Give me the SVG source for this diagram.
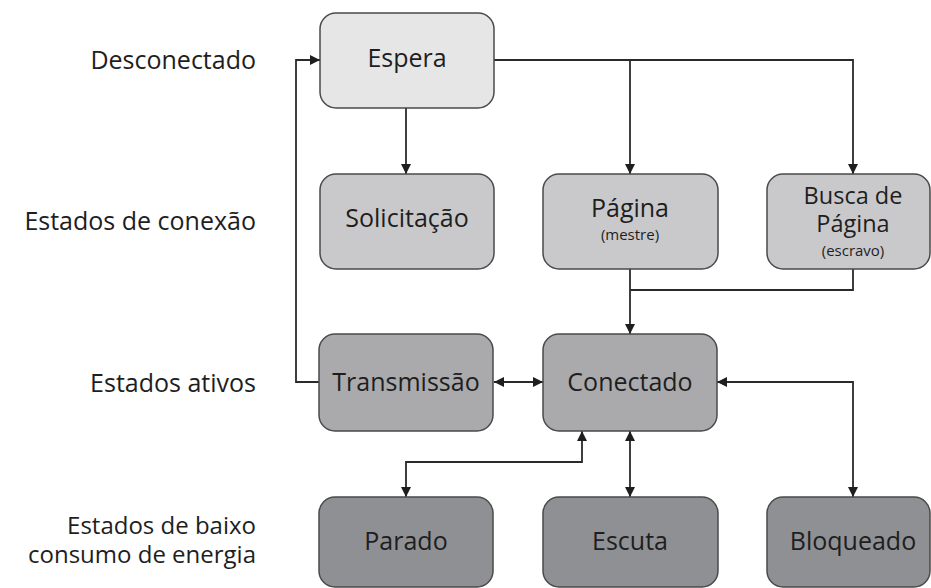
<svg xmlns="http://www.w3.org/2000/svg" width="931" height="588" viewBox="0 0 931 588">
<defs>
<marker id="ah" viewBox="0 0 10 10" refX="10" refY="5" markerWidth="10" markerHeight="10" markerUnits="userSpaceOnUse" orient="auto-start-reverse">
<path d="M0,0 L10,5 L0,10 z" fill="#1e1e1e"/>
</marker>
<style>
.box{stroke:#4a4a4a;stroke-width:1.5}
.l0{fill:#e6e6e7}.l1{fill:#c9c9cb}.l2{fill:#aaaaad}.l3{fill:#8f9094}
.t{font-family:"Open Sans","DejaVu Sans",sans-serif;fill:#1e1e1e;text-anchor:middle}
.n{font-size:25px}
.m{font-size:23.5px}
.s{font-size:15px}
.lab{font-family:"Open Sans","DejaVu Sans",sans-serif;font-size:25px;fill:#1e1e1e;text-anchor:end}
.lab2{font-size:24px}
.c{fill:none;stroke:#2a2a2a;stroke-width:1.8}
</style>
</defs>
<rect width="931" height="588" fill="#ffffff"/>
<g id="labels">
<text class="lab" x="256" y="69">Desconectado</text>
<text class="lab" x="256" y="230">Estados de conexão</text>
<text class="lab" x="256" y="392">Estados ativos</text>
<text class="lab lab2" x="256" y="534">Estados de baixo</text>
<text class="lab lab2" x="256" y="563">consumo de energia</text>
</g>
<g id="connectors">
<path class="c" d="M494,60 H853 V174" marker-end="url(#ah)"/>
<path class="c" d="M630,60 V174" marker-end="url(#ah)"/>
<path class="c" d="M406,108 V174" marker-end="url(#ah)"/>
<path class="c" d="M630,269 V334" marker-end="url(#ah)"/>
<path class="c" d="M853,269 V290 H630"/>
<path class="c" d="M319,382 H296 V60 H320" marker-end="url(#ah)"/>
<path class="c" d="M494,382 H543" marker-start="url(#ah)" marker-end="url(#ah)"/>
<path class="c" d="M717,382 H853 V497" marker-start="url(#ah)" marker-end="url(#ah)"/>
<path class="c" d="M582,431 V462 H406 V497" marker-start="url(#ah)" marker-end="url(#ah)"/>
<path class="c" d="M630,431 V497" marker-start="url(#ah)" marker-end="url(#ah)"/>
</g>
<g id="espera"><rect class="box l0" x="320" y="13" width="174" height="95" rx="16"/><text class="t n" x="407" y="67">Espera</text></g>
<g id="solicitacao"><rect class="box l1" x="320" y="174" width="174" height="95" rx="16"/><text class="t n" x="407" y="227">Solicitação</text></g>
<g id="pagina"><rect class="box l1" x="543" y="174" width="175" height="95" rx="16"/><text class="t n" x="630" y="217">Página</text><text class="t s" x="630" y="240">(mestre)</text></g>
<g id="busca"><rect class="box l1" x="767" y="174" width="163" height="95" rx="16"/><text class="t m" x="853" y="204">Busca de</text><text class="t m" x="853" y="232">Página</text><text class="t s" x="853" y="256">(escravo)</text></g>
<g id="transmissao"><rect class="box l2" x="319" y="334" width="174" height="97" rx="16"/><text class="t n" x="406" y="391">Transmissão</text></g>
<g id="conectado"><rect class="box l2" x="543" y="334" width="174" height="97" rx="16"/><text class="t n" x="630" y="391">Conectado</text></g>
<g id="parado"><rect class="box l3" x="319" y="497" width="174" height="90" rx="16"/><text class="t n" x="406" y="550">Parado</text></g>
<g id="escuta"><rect class="box l3" x="543" y="497" width="175" height="90" rx="16"/><text class="t n" x="630" y="550">Escuta</text></g>
<g id="bloqueado"><rect class="box l3" x="767" y="497" width="163" height="90" rx="16"/><text class="t n" x="853" y="550">Bloqueado</text></g>
</svg>
